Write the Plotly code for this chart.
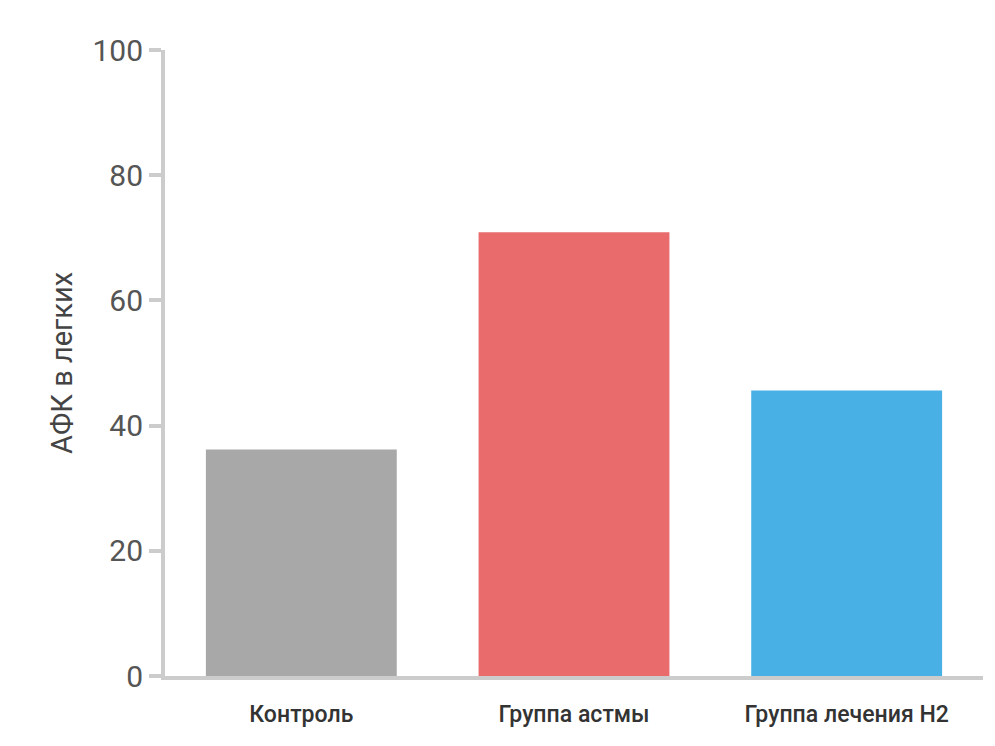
import plotly.graph_objects as go

categories = ["Контроль", "Группа астмы", "Группа лечения H2"]
values = [36.2, 70.9, 45.6]
colors = ["#a8a8a8", "#e96b6c", "#48b0e4"]
y_ticks = [0, 20, 40, 60, 80, 100]

fig = go.Figure(go.Bar(x=categories, y=values, marker_color=colors, marker_line_width=0))
fig.update_layout(
    width=995, height=746, bargap=0.3,
    margin=dict(l=157, r=20, t=42, b=78),
    plot_bgcolor="white", paper_bgcolor="white",
    font=dict(family="Roboto", color="#555"),
    showlegend=False,
)
fig.update_yaxes(range=[0, 100], tickvals=y_ticks, showgrid=False, zeroline=False,
                 showline=True, linecolor="#cccccc", linewidth=4,
                 ticks="outside", ticklen=12, tickwidth=4, tickcolor="#cccccc",
                 tickfont=dict(size=30, color="#555"),
                 title=dict(text="АФК в легких", font=dict(size=29, color="#444"), standoff=12))
fig.update_xaxes(showline=True, linecolor="#cccccc", linewidth=4, ticks="",
                 tickfont=dict(size=23, color="#333", family="Roboto Medium, Roboto"),
                 ticklabelstandoff=14)
fig.write_html("out.html")
